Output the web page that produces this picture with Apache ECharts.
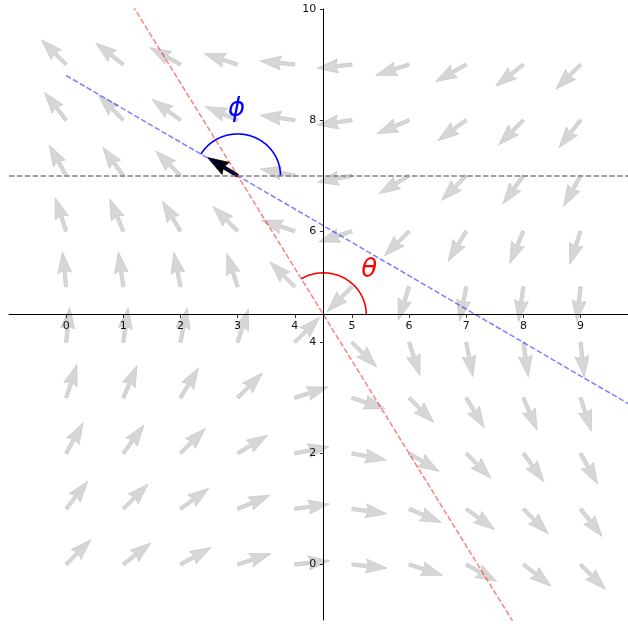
<!DOCTYPE html>
<html>
<head>
<meta charset="utf-8">
<script src="https://cdn.jsdelivr.net/npm/echarts@6/dist/echarts.min.js"></script>
<style>
  html, body { margin: 0; padding: 0; background: #ffffff; }
  #chart { width: 628px; height: 626px; }
</style>
</head>
<body>
<div id="chart"></div>
<script>
// Tick values shown on the two centred axes
const xTickValues = [0, 1, 2, 3, 4, 5, 6, 7, 8, 9];
const yTickValues = [0, 2, 4, 6, 8, 10];

// Sample positions of the direction field
const sampleX = [0, 1, 2, 3, 4, 5, 6, 7, 8, 9];
const sampleY = [0, 1, 2, 3, 4, 5, 6, 7, 8, 9];

// Arrow direction (degrees from +x, counter-clockwise) at each sample, one row per y
const dirY0 = [45, 38, 29, 18, 6, -6, -18, -29, -38, -45];
const dirY1 = [52, 45, 36, 23, 8, -8, -23, -36, -45, -52];
const dirY2 = [61, 54, 45, 31, 11, -11, -31, -45, -54, -61];
const dirY3 = [72, 67, 59, 45, 18, -18, -45, -59, -67, -72];
const dirY4 = [84, 82, 79, 72, 45, -45, -72, -79, -82, -84];
const dirY5 = [96, 98, 101, 108, 135, -135, -108, -101, -98, -96];
const dirY6 = [108, 113, 121, 135, 162, -162, -135, -121, -113, -108];
const dirY7 = [119, 126, 135, 149, 169, -169, -149, -135, -126, -119];
const dirY8 = [128, 135, 144, 157, 172, -172, -157, -144, -135, -128];
const dirY9 = [135, 142, 151, 162, 174, -174, -162, -151, -142, -135];
const fieldDirections = [dirY0, dirY1, dirY2, dirY3, dirY4, dirY5, dirY6, dirY7, dirY8, dirY9];

// Saddle centre (also where the spines cross) and the highlighted sample
const saddleCenter = [4.5, 4.5];
const probePoint = [3, 7];

// Axis ranges
const X_MIN = -1, X_MAX = 9.83;
const Y_MIN = -1, Y_MAX = 10;

// Plot area in pixels
const GRID = { left: 9, top: 9, width: 619, height: 611 };

// Angles used by the annotations
const probeDir = fieldDirections[sampleY.indexOf(probePoint[1])][sampleX.indexOf(probePoint[0])];
const thetaDeg = Math.atan2(probePoint[1] - saddleCenter[1], probePoint[0] - saddleCenter[0]) * 180 / Math.PI;
const phiDeg = probeDir;
const ARC_RADIUS = 0.75;

// Build arrow records [x, y, angle]
const arrowData = [];
sampleY.forEach((y, i) => {
  sampleX.forEach((x, j) => {
    arrowData.push([x, y, fieldDirections[i][j]]);
  });
});

// Arrow geometry (pixels)
const ARROW = { len: 35, headLen: 21, headAxis: 19, headHalf: 7, shaftHalf: 1.7 };

function arrowPoints(p, angDeg) {
  const a = angDeg * Math.PI / 180;
  const dx = Math.cos(a), dy = -Math.sin(a);
  const px = -dy, py = dx;
  const L = ARROW.len, hl = ARROW.headLen, ha = ARROW.headAxis, hw = ARROW.headHalf, sw = ARROW.shaftHalf;
  const local = [[0, -sw], [L - ha, -sw], [L - hl, -hw], [L, 0], [L - hl, hw], [L - ha, sw], [0, sw]];
  return local.map(([u, w]) => [p[0] + u * dx + w * px, p[1] + u * dy + w * py]);
}

function arrowRenderer(fill, stroke) {
  return function (params, api) {
    const p = api.coord([api.value(0), api.value(1)]);
    return {
      type: 'polygon',
      shape: { points: arrowPoints(p, api.value(2)) },
      style: { fill: fill, stroke: stroke, lineWidth: 0.7 }
    };
  };
}

// Line through a point with a given slope, evaluated over x in [0, 10]
function lineThrough(p0, slope) {
  return [0, 10].map(x => [x, p0[1] + slope * (x - p0[0])]);
}
const redLine = lineThrough(saddleCenter, (probePoint[1] - saddleCenter[1]) / (probePoint[0] - saddleCenter[0]));
const blueLine = lineThrough(probePoint, Math.tan(phiDeg * Math.PI / 180));

// Arc records [cx, cy, endAngle, colour index]
const arcColors = ['#ff0000', '#0000ff'];
const arcData = [
  [saddleCenter[0], saddleCenter[1], thetaDeg, 0],
  [probePoint[0], probePoint[1], phiDeg, 1]
];

// Text labels [x, y, text, colour index]
const labelData = [
  [2.98, 8.2, '\u03D5', 1],
  [5.3, 5.3, '\u03B8', 0]
];

const xOffset = -((saddleCenter[1] - Y_MIN) / (Y_MAX - Y_MIN)) * GRID.height;
const yOffset = -((saddleCenter[0] - X_MIN) / (X_MAX - X_MIN)) * GRID.width;

const axisText = { fontFamily: 'DejaVu Sans', fontSize: 11, color: '#111111' };

const chart = echarts.init(document.getElementById('chart'), null, { renderer: 'canvas' });
chart.setOption({
  animation: false,
  backgroundColor: '#ffffff',
  grid: { left: GRID.left, top: GRID.top, width: GRID.width, height: GRID.height, containLabel: false },
  xAxis: {
    type: 'value', min: X_MIN, max: X_MAX, position: 'bottom', offset: xOffset, z: 3,
    axisLine: { onZero: false, lineStyle: { color: '#000000', width: 1 } },
    axisTick: { show: true, length: 3.5, lineStyle: { color: '#000000', width: 0.8 }, customValues: xTickValues },
    axisLabel: Object.assign({ margin: 6, customValues: xTickValues }, axisText),
    splitLine: { show: false }
  },
  yAxis: {
    type: 'value', min: Y_MIN, max: Y_MAX, position: 'left', offset: yOffset, z: 3,
    axisLine: { onZero: false, lineStyle: { color: '#000000', width: 1 } },
    axisTick: { show: true, length: 3.5, lineStyle: { color: '#000000', width: 0.8 }, customValues: yTickValues },
    axisLabel: Object.assign({ margin: 7, customValues: yTickValues }, axisText),
    splitLine: { show: false }
  },
  series: [
    {
      name: 'field', type: 'custom', z: 1, silent: true,
      renderItem: arrowRenderer('#d6d6d6', '#c6c6c6'),
      data: arrowData
    },
    {
      name: 'probe', type: 'custom', z: 1.5, silent: true,
      renderItem: arrowRenderer('#000000', '#000000'),
      data: [[probePoint[0], probePoint[1], probeDir]]
    },
    {
      name: 'level', type: 'line', z: 2, data: [], silent: true,
      markLine: {
        silent: true, symbol: 'none', label: { show: false },
        lineStyle: { color: '#808080', width: 1.5, type: [5.5, 2.4] },
        data: [{ yAxis: probePoint[1] }]
      }
    },
    {
      name: 'radial', type: 'line', z: 2, data: redLine, showSymbol: false, silent: true, clip: true,
      lineStyle: { color: 'rgba(255,0,0,0.5)', width: 1.5, type: [5.5, 2.4] }
    },
    {
      name: 'heading', type: 'line', z: 2, data: blueLine, showSymbol: false, silent: true, clip: true,
      lineStyle: { color: 'rgba(0,0,255,0.5)', width: 1.5, type: [5.5, 2.4] }
    },
    {
      name: 'arcs', type: 'custom', z: 2, silent: true,
      renderItem: function (params, api) {
        const cx = api.value(0), cy = api.value(1), end = api.value(2);
        const pts = [];
        const steps = Math.ceil(Math.abs(end));
        for (let k = 0; k <= steps; k++) {
          const t = (end * k / steps) * Math.PI / 180;
          pts.push(api.coord([cx + ARC_RADIUS * Math.cos(t), cy + ARC_RADIUS * Math.sin(t)]));
        }
        return {
          type: 'polyline', shape: { points: pts },
          style: { stroke: arcColors[api.value(3)], lineWidth: 1.6, fill: null }
        };
      },
      data: arcData
    },
    {
      name: 'symbols', type: 'custom', z: 4, silent: true,
      renderItem: function (params, api) {
        const p = api.coord([api.value(0), api.value(1)]);
        const item = labelData[params.dataIndex];
        return {
          type: 'text', x: p[0], y: p[1],
          style: {
            text: item[2], fill: arcColors[item[3]],
            font: 'italic 26px "DejaVu Sans"', align: 'center', verticalAlign: 'middle'
          }
        };
      },
      data: labelData.map(d => [d[0], d[1]])
    }
  ]
});
</script>
</body>
</html>
